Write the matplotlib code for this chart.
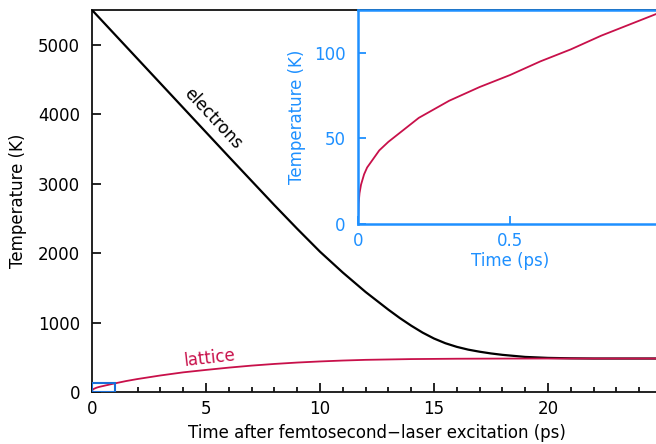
import matplotlib
matplotlib.use("Agg")
import matplotlib.pyplot as plt
from matplotlib.patches import Rectangle
from matplotlib.ticker import MultipleLocator

# ---- data ----
electron_t = [0, 2, 4, 6, 8, 9, 10, 11, 12, 13, 13.5, 14, 14.5, 15, 15.5, 16, 16.5, 17, 17.5,
              18, 19, 20, 21, 22, 25]
electron_T = [5500, 4796, 4092, 3388, 2690, 2350, 2020, 1720, 1440, 1185, 1065, 955, 855, 770,
              702, 650, 610, 580, 555, 535, 505, 491, 485, 482, 482]

lattice_t = [0, 0.002, 0.005, 0.01, 0.02, 0.03, 0.05, 0.07, 0.1, 0.15, 0.2, 0.25, 0.3, 0.4, 0.5,
             0.6, 0.7, 0.8, 0.9, 1.0,
             1.5, 2, 3, 4, 5, 6, 7, 8, 9, 10, 11, 12, 14, 16, 18, 20, 25]
lattice_T = [0, 12, 18, 23, 29, 33, 38, 43, 48, 55, 62, 67, 72, 80, 87,
             95, 102, 110, 117, 124,
             158, 187, 238, 283, 318, 351, 380, 404, 424, 440, 453, 463, 474, 479, 481, 482, 482]

main_xticks = [0, 5, 10, 15, 20]
main_yticks = [0, 1000, 2000, 3000, 4000, 5000]
inset_xticks = [0, 0.5]
inset_xticklabels = ["0", "0.5"]
inset_yticks = [0, 50, 100]

BLUE = "#1e90ff"
RECT_BLUE = "#1a6fd8"
CRIMSON = "#c8104a"

plt.rcParams["font.family"] = ["DejaVu Sans"]
plt.rcParams["font.size"] = 12

fig = plt.figure(figsize=(6.56, 4.44), dpi=100)

W, H = 656, 444
def rect(x0, y0, x1, y1):
    return [x0 / W, (H - y1) / H, (x1 - x0) / W, (y1 - y0) / H]

ax = fig.add_axes(rect(92, 10, 662, 392))
ax.plot(electron_t, electron_T, color="black", lw=1.6, zorder=3)
ax.plot(lattice_t, lattice_T, color=CRIMSON, lw=1.3, zorder=3)
ax.set_xlim(0, 25)
ax.set_ylim(0, 5500)
ax.set_xticks(main_xticks)
ax.set_yticks(main_yticks)
ax.xaxis.set_minor_locator(MultipleLocator(1))
ax.tick_params(axis="both", which="major", direction="in", length=6.5, width=1.2, labelsize=12)
ax.tick_params(axis="x", which="major", pad=6)
ax.tick_params(axis="y", which="major", pad=8.5)
ax.tick_params(axis="x", which="minor", direction="in", length=3.5, width=1.2)
ax.tick_params(axis="y", which="minor", left=False)
for s in ax.spines.values():
    s.set_linewidth(1.3)
    s.set_color("#111111")
ax.set_xlabel("Time after femtosecond\u2212laser excitation (ps)", fontsize=12, labelpad=4)
ax.set_ylabel("Temperature (K)", fontsize=12, labelpad=8)

ax.add_patch(Rectangle((0, 0), 1, 125, fill=False, edgecolor=RECT_BLUE, lw=1.5, zorder=4))

ax.text(5.31, 3931, "electrons", rotation=-47, rotation_mode="anchor",
        ha="center", va="center", fontsize=12, color="black")
ax.text(5.15, 490, "lattice", rotation=6.5, rotation_mode="anchor",
        ha="center", va="center", fontsize=12, color=CRIMSON)

ins = fig.add_axes(rect(358, 10, 662, 224))
ins.plot(lattice_t, lattice_T, color=CRIMSON, lw=1.3)
ins.set_xlim(0, 1)
ins.set_ylim(0, 125)
ins.set_xticks(inset_xticks)
ins.set_xticklabels(inset_xticklabels)
ins.set_yticks(inset_yticks)
ins.tick_params(axis="both", direction="in", length=6, width=1.3, colors=BLUE, labelsize=12)
ins.tick_params(axis="x", pad=6)
ins.tick_params(axis="y", pad=9)
for s in ins.spines.values():
    s.set_linewidth(1.8)
    s.set_color(BLUE)
ins.set_xlabel("Time (ps)", color=BLUE, fontsize=12, labelpad=1)
ins.set_ylabel("Temperature (K)", color=BLUE, fontsize=12, labelpad=6)

fig.savefig("out.png", dpi=100)
